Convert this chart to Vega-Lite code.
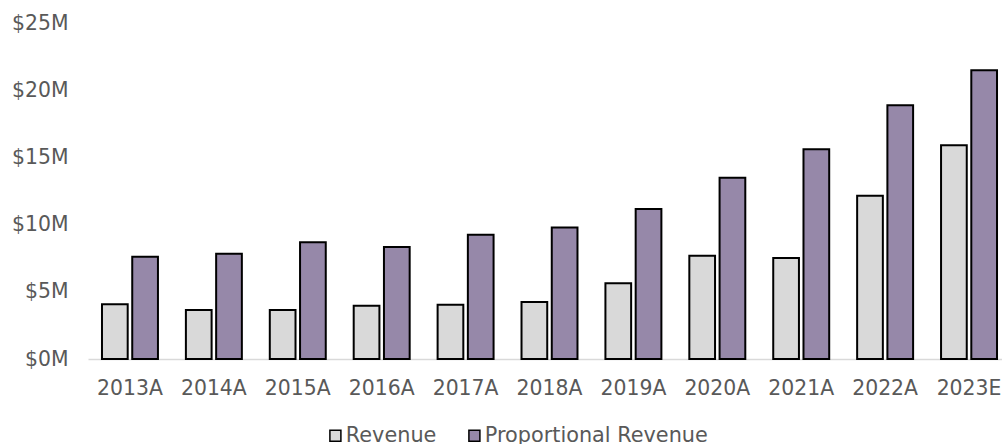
{
  "$schema": "https://vega.github.io/schema/vega-lite/v6.json",
  "autosize": "none",
  "width": 914,
  "height": 336,
  "padding": {"left": 88, "top": 23, "right": 0, "bottom": 85},
  "background": "#ffffff",
  "config": {
    "font": "DejaVu Sans",
    "view": {"stroke": null},
    "axis": {"labelFont": "DejaVu Sans", "labelFontSize": 20.4, "labelColor": "#595959", "ticks": false, "grid": false, "title": null},
    "legend": {"labelFont": "DejaVu Sans", "labelFontSize": 20.8, "labelColor": "#595959", "labelLimit": 400}
  },
  "data": {
    "values": [
      {"year": "2013A", "series": "Revenue", "value": 4.07},
      {"year": "2013A", "series": "Proportional Revenue", "value": 7.6},
      {"year": "2014A", "series": "Revenue", "value": 3.64},
      {"year": "2014A", "series": "Proportional Revenue", "value": 7.83},
      {"year": "2015A", "series": "Revenue", "value": 3.64},
      {"year": "2015A", "series": "Proportional Revenue", "value": 8.68},
      {"year": "2016A", "series": "Revenue", "value": 3.96},
      {"year": "2016A", "series": "Proportional Revenue", "value": 8.33},
      {"year": "2017A", "series": "Revenue", "value": 4.04},
      {"year": "2017A", "series": "Proportional Revenue", "value": 9.24},
      {"year": "2018A", "series": "Revenue", "value": 4.24},
      {"year": "2018A", "series": "Proportional Revenue", "value": 9.79},
      {"year": "2019A", "series": "Revenue", "value": 5.63},
      {"year": "2019A", "series": "Proportional Revenue", "value": 11.17},
      {"year": "2020A", "series": "Revenue", "value": 7.68},
      {"year": "2020A", "series": "Proportional Revenue", "value": 13.48},
      {"year": "2021A", "series": "Revenue", "value": 7.51},
      {"year": "2021A", "series": "Proportional Revenue", "value": 15.61},
      {"year": "2022A", "series": "Revenue", "value": 12.14},
      {"year": "2022A", "series": "Proportional Revenue", "value": 18.88},
      {"year": "2023E", "series": "Revenue", "value": 15.91},
      {"year": "2023E", "series": "Proportional Revenue", "value": 21.49}
    ]
  },
  "mark": {"type": "bar", "stroke": "#000000", "strokeWidth": 2},
  "encoding": {
    "x": {
      "field": "year",
      "type": "nominal",
      "sort": null,
      "scale": {"range": [0, 923], "paddingInner": 0.333, "paddingOuter": 0.1667},
      "axis": {"labelAngle": 0, "labelPadding": 19, "domainColor": "#d9d9d9", "domainWidth": 1.5}
    },
    "xOffset": {
      "field": "series",
      "type": "nominal",
      "sort": ["Revenue", "Proportional Revenue"],
      "scale": {"paddingInner": 0.15, "paddingOuter": 0}
    },
    "y": {
      "field": "value",
      "type": "quantitative",
      "scale": {"domain": [0, 25], "nice": false},
      "axis": {"values": [0, 5, 10, 15, 20, 25], "labelExpr": "'$' + datum.value + 'M'", "domain": false, "labelPadding": 20}
    },
    "color": {
      "field": "series",
      "type": "nominal",
      "sort": ["Revenue", "Proportional Revenue"],
      "scale": {"domain": ["Revenue", "Proportional Revenue"], "range": ["#d9d9d9", "#9688a9"]},
      "legend": {
        "title": null,
        "orient": "none",
        "direction": "horizontal",
        "legendX": 237,
        "legendY": 402,
        "symbolType": "square",
        "symbolSize": 121,
        "symbolStrokeColor": "#000000",
        "symbolStrokeWidth": 1.5,
        "symbolOpacity": 1,
        "labelOffset": 0,
        "columnPadding": 27
      }
    }
  }
}
